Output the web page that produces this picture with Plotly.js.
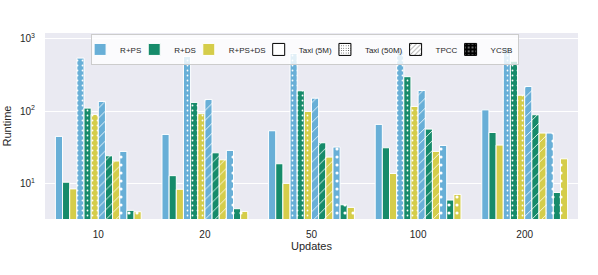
<!DOCTYPE html>
<html>
<head>
<meta charset="utf-8">
<script src="https://cdn.plot.ly/plotly-3.0.1.min.js"></script>
<style>html,body{margin:0;padding:0;background:#fff;}#chart{width:598px;height:275px;}</style>
</head>
<body>
<div id="chart"></div>
<script>
// Categories (number of updates)
const updates = ['10', '20', '50', '100', '200'];

// Methods and workloads
const methods = ['R+PS', 'R+DS', 'R+PS+DS'];
const workloads = ['Taxi (5M)', 'Taxi (50M)', 'TPCC', 'YCSB'];

// Runtime values per workload / method
const taxi5m_rps   = [44.7, 47.6, 53.5, 65.5, 104];
const taxi5m_rds   = [10.4, 12.8, 18.7, 31.1, 50.7];
const taxi5m_rpsds = [8.4, 8.3, 10.0, 13.7, 33.9];

const taxi50m_rps   = [541, 570, 627, 682, 760];
const taxi50m_rds   = [110, 132, 191, 299, 491];
const taxi50m_rpsds = [90, 92, 99, 116, 166];

const tpcc_rps   = [136, 145, 151, 193, 219];
const tpcc_rds   = [24.1, 26.5, 36.5, 56.4, 89];
const tpcc_rpsds = [20.4, 21.2, 23.1, 27.7, 49.7];

const ycsb_rps   = [27.7, 28.6, 31.8, 33.5, 49.7];
const ycsb_rds   = [4.24, 4.47, 5.07, 5.89, 7.5];
const ycsb_rpsds = [4.06, 4.1, 4.66, 7.05, 21.9];

const yTickVals = [10, 100, 1000];
const yTickText = ['10<sup>1</sup>', '10<sup>2</sup>', '10<sup>3</sup>'];

// styles
const methodColors = ['#68AFD7', '#168B6A', '#D5CD4A'];
const patterns = {
  'Taxi (5M)':  {shape: '', size: 6, solidity: 0.2},
  'Taxi (50M)': {shape: '.', size: 5, solidity: 0.1},
  'TPCC':       {shape: '/', size: 7, solidity: 0.12},
  'YCSB':       {shape: '.', size: 8, solidity: 0.12}
};
const data = {
  'Taxi (5M)':  [taxi5m_rps, taxi5m_rds, taxi5m_rpsds],
  'Taxi (50M)': [taxi50m_rps, taxi50m_rds, taxi50m_rpsds],
  'TPCC':       [tpcc_rps, tpcc_rds, tpcc_rpsds],
  'YCSB':       [ycsb_rps, ycsb_rds, ycsb_rpsds]
};

const traces = [];
workloads.forEach((w, wi) => {
  methods.forEach((m, mi) => {
    const p = patterns[w];
    traces.push({
      type: 'bar',
      x: updates,
      y: data[w][mi],
      name: m,
      legendrank: mi + 1,
      showlegend: wi === 0,
      marker: {
        color: methodColors[mi],
        line: {color: 'white', width: 1},
        pattern: {shape: p.shape, fgcolor: 'white', bgcolor: methodColors[mi], size: p.size, solidity: p.solidity, fillmode: 'replace'}
      },
      hoverinfo: 'skip'
    });
  });
});

// legend-only workload entries (on hidden axes)
workloads.forEach((w, wi) => {
  const p = patterns[w];
  const isY = w === 'YCSB';
  traces.push({
    type: 'bar',
    x: [null], y: [null],
    xaxis: 'x2', yaxis: 'y2',
    name: w,
    legendrank: 10 + wi,
    showlegend: true,
    marker: {
      color: isY ? 'black' : 'white',
      line: {color: 'black', width: 1},
      pattern: {shape: p.shape, fgcolor: isY ? 'white' : 'black', bgcolor: isY ? 'black' : 'white', size: Math.max(3, p.size * 0.6), solidity: p.solidity, fillmode: 'replace'}
    }
  });
});

const fontFam = '"Liberation Sans", Arial, sans-serif';
const layout = {
  width: 598, height: 275,
  margin: {l: 45, r: 20, t: 33, b: 56},
  paper_bgcolor: 'white',
  plot_bgcolor: '#EAEAF2',
  font: {family: fontFam, color: '#262626', size: 10},
  barmode: 'group',
  bargap: 0.195,
  bargroupgap: 0,
  showlegend: true,
  xaxis: {
    type: 'category',
    showgrid: false, zeroline: false, showline: false, ticks: '',
    ticklabelstandoff: 8,
    tickfont: {size: 10},
    title: {text: 'Updates', font: {size: 11}, standoff: 2}
  },
  yaxis: {
    type: 'log',
    range: [0.508, 3.08],
    tickvals: yTickVals, ticktext: yTickText,
    showgrid: true, gridcolor: 'white', gridwidth: 1,
    zeroline: false, showline: false, ticks: '',
    ticklabelstandoff: 9,
    tickfont: {size: 10},
    title: {text: 'Runtime', font: {size: 11}, standoff: 6}
  },
  xaxis2: {overlaying: 'x', visible: false, range: [0, 1]},
  yaxis2: {overlaying: 'y', visible: false, range: [0, 1]},
  legend: {
    orientation: 'h',
    x: 0.488, xanchor: 'center',
    y: 0.995, yanchor: 'top',
    bgcolor: 'rgba(255,255,255,0.8)',
    bordercolor: '#CCCCCC', borderwidth: 1,
    font: {size: 8, color: '#262626'},
    itemwidth: 30,
    indentation: -12,
    traceorder: 'normal'
  }
};

Plotly.newPlot('chart', traces, layout, {displayModeBar: false, staticPlot: true});
</script>
</body>
</html>
